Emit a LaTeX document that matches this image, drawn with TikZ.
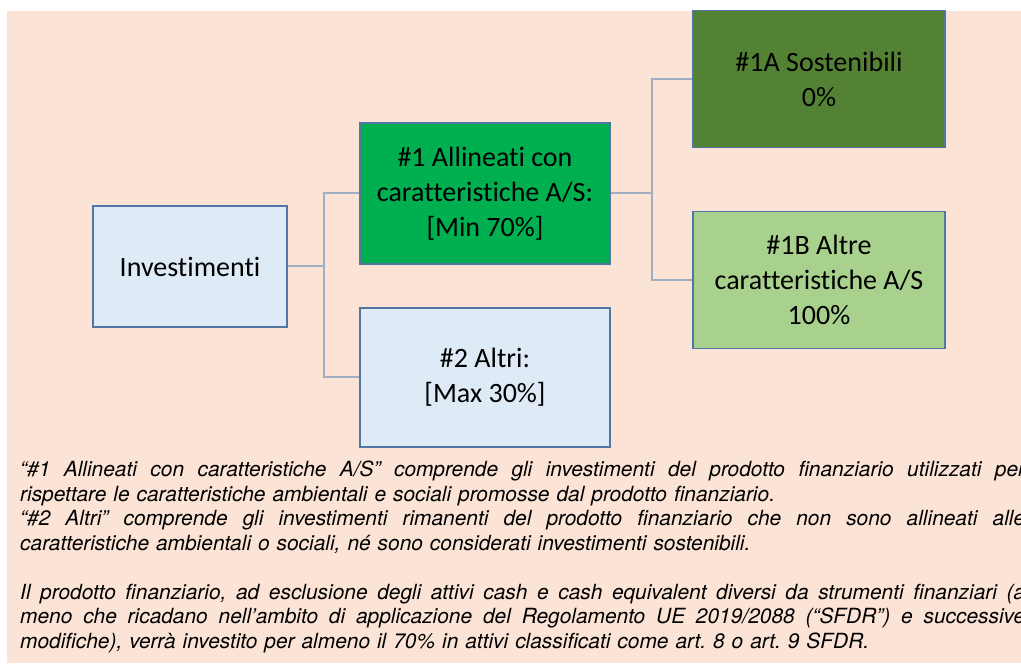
\documentclass[tikz,border=0pt]{standalone}
\usepackage{fontspec}
\setsansfont{TeX Gyre Heros}
\newfontfamily\boxfont[Ligatures={NoCommon}]{Carlito}
\usepackage{tikz}
\usetikzlibrary{positioning}

\definecolor{peach}{HTML}{FBE3D6}
\definecolor{paleblue}{HTML}{DEEBF7}
\definecolor{boxline}{HTML}{5276A3}
\definecolor{connline}{HTML}{A0AEC2}
\definecolor{brightgreen}{HTML}{00B050}
\definecolor{darkgreen}{HTML}{548235}
\definecolor{softgreen}{HTML}{A9D18E}

\tikzset{
	box/.style={draw=boxline, line width=1.3pt, minimum width=252pt, minimum height=137pt,
		inner sep=0pt, align=center, font=\boxfont\fontsize{28}{35}\selectfont},
	conn/.style={draw=connline, line width=2pt},
	note/.style={inner sep=0pt, anchor=base west, text width=1005pt,
		font=\sffamily\itshape\fontsize{20.9}{24.5}\selectfont\frenchspacing}
}
\newcommand{\fullline}[1]{\hbox to 1005pt{\spaceskip=\fontdimen2\font plus 1fil\relax
	\xspaceskip=\spaceskip #1}}

\begin{document}
\begin{tikzpicture}[x=1pt,y=-1pt]
		\useasboundingbox (0,0) rectangle (1021,668);
		\clip (0,0) rectangle (1021,668);
		\fill [peach] (7,11) rectangle (1021,663);
		% boxes
		\node [box, fill=paleblue, minimum width=194pt, minimum height=121pt] (inv) at (190,266.5) {Investimenti};
		\node [box, fill=brightgreen, minimum width=250pt, minimum height=141pt] (all) at (485,193.5) {\#1 Allineati con\\caratteristiche A/S:\\{[Min 70\%]}};
		\node [box, fill=paleblue, minimum width=250pt, minimum height=139pt] (oth) at (485,377.5) {\#2 Altri:\\{[Max 30\%]}};
		\node [box, fill=darkgreen] (sost) at (819,79) {\#1A Sostenibili\\0\%};
		\node [box, fill=softgreen] (altre) at (819,280) {\#1B Altre\\caratteristiche A/S\\100\%};
		% connectors
		\draw [conn] (inv.east) -- ++(36,0) coordinate (fork) |- (all.west);
		\draw [conn] (fork) |- (oth.west);
		\draw [conn] (all.east) -- ++(41,0) coordinate (fork2) |- (sost.west);
		\draw [conn] (fork2) |- (altre.west);
		% notes
		\node [note] (notes) at (20,477) {%
			\fullline{“\#1 Allineati con caratteristiche A/S” comprende gli investimenti del prodotto finanziario utilizzati per}
			\hbox{rispettare le caratteristiche ambientali e sociali promosse dal prodotto finanziario.}
			\fullline{“\#2 Altri” comprende gli investimenti rimanenti del prodotto finanziario che non sono allineati alle}
			\hbox{caratteristiche ambientali o sociali, né sono considerati investimenti sostenibili.}
			\vskip\baselineskip
			\fullline{Il prodotto finanziario, ad esclusione degli attivi cash e cash equivalent diversi da strumenti finanziari (a}
			\fullline{meno che ricadano nell’ambito di applicazione del Regolamento UE 2019/2088 (“SFDR”) e successive}
			\hbox{modifiche), verrà investito per almeno il 70\% in attivi classificati come art. 8 o art. 9 SFDR.}};
\end{tikzpicture}
\end{document}
